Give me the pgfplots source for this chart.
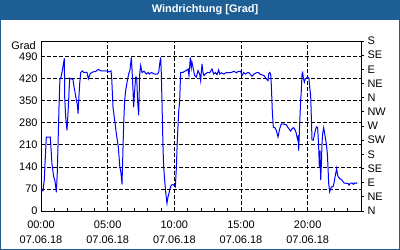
\documentclass[border=0pt]{standalone}
\usepackage{pgfplots}
\pgfplotsset{compat=1.18}
\usepackage{fontspec}
\setmainfont{Liberation Sans}
\definecolor{titleblue}{HTML}{1D5F95}
\definecolor{lineblue}{HTML}{0000FF}
\pgfplotstableread{
h v
0.00 66
0.15 64
0.25 100
0.30 150
0.40 235
0.70 235
0.82 150
0.95 110
1.05 95
1.15 59
1.22 120
1.28 214
1.35 330
1.42 420
1.50 425
1.60 446
1.68 467
1.75 485
1.78 360
1.85 298
1.95 256
2.05 330
2.15 422
2.25 420
2.40 418
2.48 393
2.58 370
2.68 346
2.72 340
2.78 309
2.82 345
2.90 404
2.98 440
3.10 445
3.20 440
3.30 440
3.45 440
3.55 420
3.70 437
3.90 442
4.10 443
4.30 450
4.50 445
4.90 445
5.10 442
5.25 445
5.30 425
5.40 330
5.55 280
5.65 246
5.80 203
5.90 145
6.00 120
6.075 85
6.125 161
6.20 277
6.275 351
6.35 383
6.475 414
6.575 435
6.675 448
6.775 488
6.825 451
6.90 383
6.95 330
7.025 383
7.10 425
7.175 425
7.25 346
7.325 304
7.40 435
7.475 462
7.575 440
7.725 444
7.90 435
8.025 440
8.15 435
8.275 440
8.525 435
8.725 435
8.825 440
8.90 467
8.975 488
9.025 435
9.10 298
9.15 204
9.20 140
9.275 98
9.35 61
9.45 24
9.525 45
9.60 56
9.65 67
9.725 77
9.775 82
9.90 84
10.075 77
10.15 135
10.225 225
10.325 314
10.40 351
10.475 440
10.65 440
10.775 444
10.90 446
11.025 451
11.10 430
11.20 488
11.275 456
11.325 472
11.40 456
11.525 430
11.65 425
11.775 446
11.90 435
11.975 414
12.075 467
12.15 440
12.225 430
12.325 435
12.475 440
12.65 439
12.825 451
12.95 435
13.075 440
13.20 433
13.325 448
13.40 435
13.525 439
13.725 435
13.90 440
14.075 439
14.275 440
14.475 444
14.65 439
14.775 443
14.975 444
15.075 430
15.20 440
15.325 435
15.475 439
15.575 440
15.725 433
15.825 428
15.975 435
16.15 439
16.325 440
16.40 435
16.525 433
16.725 430
16.90 420
17.025 414
17.075 435
17.15 440
17.225 435
17.275 399
17.35 314
17.425 266
17.525 265
17.65 256
17.775 235
17.90 261
18.025 277
18.15 277
18.275 275
18.40 274
18.525 265
18.65 258
18.725 254
18.825 261
18.95 265
19.075 256
19.15 246
19.225 230
19.275 235
19.325 192
19.40 277
19.475 351
19.525 383
19.575 435
19.625 440
19.675 423
19.75 409
19.825 420
19.925 423
20.025 425
20.10 420
20.15 393
20.225 367
20.275 298
20.325 226
20.425 225
20.525 246
20.60 261
20.675 267
20.75 265
20.825 204
20.875 140
20.925 192
20.975 98
21.025 146
21.075 214
21.125 246
21.20 265
21.275 246
21.40 214
21.475 183
21.525 140
21.575 88
21.65 61
21.70 67
21.775 77
21.90 77
21.975 88
22.05 108
22.125 124
22.175 135
22.225 119
22.30 108
22.425 103
22.575 98
22.725 89
22.90 88
23.025 88
23.10 82
23.20 88
23.325 89
23.425 85
23.525 89
23.65 88
23.725 90
}\winddata
\begin{document}
\begin{tikzpicture}[x=1bp,y=1bp]
\path[use as bounding box] (0,0) rectangle (400,250);
\fill[white] (0,0) rectangle (400,250);
\fill[titleblue] (0,230) rectangle (400,250);
\draw[titleblue, line width=1.5bp] (0.75,0.75) rectangle (399.25,249.25);
\node[white, font=\bfseries\fontsize{11}{13}\selectfont, inner sep=0] at (205,240) {Windrichtung [Grad]};
\begin{axis}[
  at={(41bp,39bp)}, anchor=south west,
  width=320bp, height=170bp, scale only axis,
  xmin=0, xmax=24, ymin=0, ymax=540,
  axis line style={black, line width=0.8bp},
  xtick={0,5,10,15,20},
  xticklabels={{00:00\\07.06.18},{05:00\\07.06.18},{10:00\\07.06.18},{15:00\\07.06.18},{20:00\\07.06.18}},
  minor xtick={1,2,3,4,6,7,8,9,11,12,13,14,16,17,18,19,21,22,23},
  xtick pos=bottom, ytick pos=left,
  tick align=inside,
  major tick length=3bp, minor tick length=3bp,
  tick style={black, line width=0.8bp},
  ytick={0,70,...,490},
  xmajorgrids, ymajorgrids,
  grid style={black, line width=0.8bp, dash pattern=on 3.5bp off 2.5bp},
  ticklabel style={font=\fontsize{11}{15.5}\selectfont},
  xticklabel style={align=center, yshift=-6bp},
  /pgf/number format/assume math mode=true,
  clip=false,
]
\addplot[lineblue, line width=1bp] table[x=h, y=v] {\winddata};
\node[anchor=east, inner sep=0, font=\fontsize{11}{13}\selectfont] at (rel axis cs:0,1) [xshift=-5bp, yshift=-5bp] {Grad};
\end{axis}
\begin{axis}[
  at={(41bp,39bp)}, anchor=south west,
  width=320bp, height=170bp, scale only axis,
  xmin=0, xmax=24, ymin=0, ymax=540,
  axis x line=none, axis y line*=right,
  axis line style={black, line width=0.8bp},
  ytick={0,45,...,540},
  yticklabels={N,NE,E,SE,S,SW,W,NW,N,NE,E,SE,S},
  tick align=outside, major tick length=3bp,
  tick style={black, line width=0.8bp},
  yticklabel style={font=\fontsize{11}{13}\selectfont},
]
\end{axis}
\end{tikzpicture}
\end{document}
